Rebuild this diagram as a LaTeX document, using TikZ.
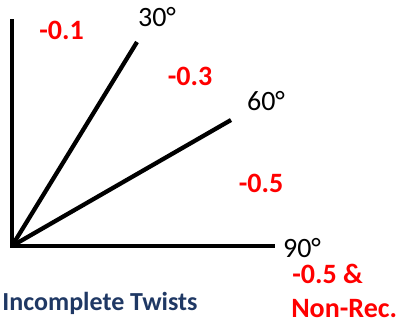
\documentclass[tikz,border=0pt]{standalone}
\usepackage{fontspec}
\setmainfont{Carlito}
\definecolor{redlab}{RGB}{255,0,0}
\definecolor{navy}{RGB}{31,56,100}
\begin{document}
\begin{tikzpicture}[x=0.75pt,y=-0.75pt,
  ray/.style={line width=3.2pt,black},
  redlbl/.style={text=redlab,font=\fontsize{21}{25}\selectfont\bfseries,inner sep=0pt},
  anglbl/.style={text=black,font=\fontsize{21}{25}\selectfont,inner sep=0pt},
  title/.style={text=navy,font=\fontsize{19.5}{24}\selectfont\bfseries,inner sep=0pt}]
\useasboundingbox (0,0) rectangle (400,325);
\coordinate (o) at (12,246);
\coordinate (top) at (12,21);
\coordinate (end90) at (273,246);
\coordinate (end30) at (137,42);
\coordinate (end60) at (231,120);
\draw[ray,line cap=rect] (top) -- (o) -- (end90);
\draw[ray] (o) -- (end30);
\draw[ray] (o) -- (end60);
\node[anglbl] (l30) at (157,17) {30°};
\node[anglbl] (l60) at (266,101) {60°};
\node[anglbl] (l90) at (302,248) {90°};
\node[redlbl] (r1) at (61.5,30) {-0.1};
\node[redlbl] (r3) at (190,76) {-0.3};
\node[redlbl] (r5) at (261,183) {-0.5};
\node[redlbl,anchor=west] (r5a) at (292,274) {-0.5 \&};
\node[redlbl,anchor=west] (nr) at (291,309) {Non-Rec.};
\node[title] (tw) at (100,303) {Incomplete Twists};
\end{tikzpicture}
\end{document}
